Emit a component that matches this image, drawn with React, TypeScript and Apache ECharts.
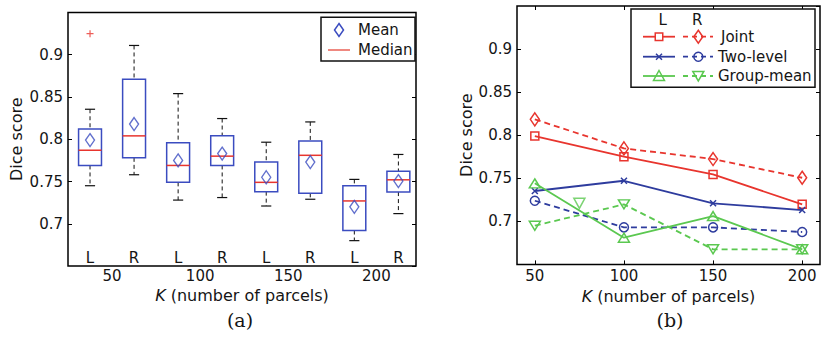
import React, { useEffect, useRef } from "react";
import * as echarts from "echarts";

// ---------- Panel (a): box plots ----------
const boxPositions = [1, 2, 3, 4, 5, 6, 7, 8];
const boxSides = ["L", "R", "L", "R", "L", "R", "L", "R"];
const kTickPositions = [1.5, 3.5, 5.5, 7.5];
const kTickLabels = ["50", "100", "150", "200"];
const boxMin = [0.745, 0.758, 0.728, 0.731, 0.721, 0.729, 0.68, 0.712];
const boxQ1 = [0.769, 0.778, 0.749, 0.769, 0.738, 0.736, 0.692, 0.7375];
const boxMedian = [0.787, 0.804, 0.769, 0.78, 0.749, 0.781, 0.727, 0.752];
const boxQ3 = [0.812, 0.871, 0.796, 0.804, 0.773, 0.798, 0.745, 0.762];
const boxMax = [0.8355, 0.911, 0.854, 0.8245, 0.7965, 0.8205, 0.7525, 0.782];
const boxMean = [0.799, 0.818, 0.775, 0.783, 0.755, 0.773, 0.72, 0.7505];
const outliers: [number, number][] = [[1, 0.925]];

// ---------- Panel (b): lines ----------
const kValues = [50, 100, 150, 200];
const jointL = [0.799, 0.775, 0.7545, 0.7197];
const jointR = [0.8184, 0.7847, 0.7723, 0.7506];
const twoLevelL = [0.7352, 0.7471, 0.7209, 0.7131];
const twoLevelR = [0.7239, 0.693, 0.693, 0.6876];
const groupMeanL = [0.7441, 0.681, 0.7061, 0.6675];
const groupMeanR = [0.6949, 0.7197, 0.6675, 0.6675];
const groupMeanRExtra: [number, number][] = [[75, 0.7209]];

const FONT = "DejaVu Sans";
const TXT = "#151515";
const BOX_BLUE = "#3b4cc0";
const RED = "#e8352e";
const BLUE = "#2e3c9e";
const GREEN = "#5bc850";

const X_SYM = "path://M0,0L10,10M10,0L0,10";
const PLUS_SYM = "path://M5,0L5,10M0,5L10,5";
const TRI_DOWN = "path://M0,0L10,0L5,9Z";
const TRI_UP = "path://M5,0L10,9L0,9Z";

const fmtY = (v: number) => String(+v.toFixed(2));

function lineSeries(
  name: string,
  data: number[],
  color: string,
  dashed: boolean,
  symbol: string,
  symbolSize: number | number[]
) {
  return {
    name,
    type: "line",
    xAxisIndex: 2,
    yAxisIndex: 2,
    data: kValues.map((k, i) => [k, data[i]]),
    symbol,
    symbolSize,
    symbolKeepAspect: true,
    showSymbol: true,
    lineStyle: { color, width: 1.8, type: dashed ? [6, 4] : "solid" },
    itemStyle: { color: "rgba(0,0,0,0)", borderColor: color, borderWidth: 1.5 },
    emphasis: { disabled: true },
    z: 3,
  };
}

export default function App() {
  const ref = useRef<HTMLDivElement>(null);
  useEffect(() => {
    if (!ref.current) return;
    const chart = echarts.init(ref.current, undefined, { renderer: "svg" });

    const boxData = boxPositions.map((p, i) => [p, boxMin[i], boxQ1[i], boxMedian[i], boxQ3[i], boxMax[i]]);

    const yCommon = (gridIndex: number, position: string, labels: boolean, name?: string, nameGap?: number) => ({
      type: "value",
      gridIndex,
      position,
      min: 0.65,
      max: 0.95,
      interval: 0.05,
      axisLine: { show: false },
      axisTick: { show: true, inside: true, length: 4, lineStyle: { color: "#000", width: 1 } },
      splitLine: { show: false },
      axisLabel: {
        show: labels,
        showMinLabel: false,
        showMaxLabel: false,
        formatter: fmtY,
        fontFamily: FONT,
        fontSize: 15,
        color: TXT,
        margin: 5,
      },
      name: name || "",
      nameLocation: "middle",
      nameGap: nameGap || 0,
      nameTextStyle: { fontFamily: FONT, fontSize: 16, color: TXT },
    });

    const kName = "{i|K} (number of parcels)";
    const kNameStyle = {
      fontFamily: FONT,
      fontSize: 16,
      color: TXT,
      rich: { i: { fontFamily: FONT, fontSize: 16, fontStyle: "italic", color: TXT } },
    };

    const diamond = (cx: number, cy: number, w: number, h: number, color: string) => ({
      type: "polygon",
      shape: { points: [[cx, cy - h / 2], [cx + w / 2, cy], [cx, cy + h / 2], [cx - w / 2, cy]] },
      style: { fill: "none", stroke: color, lineWidth: 1.5 },
      z: 101,
    });
    const hline = (x1: number, x2: number, y: number, color: string, dash?: number[]) => ({
      type: "line",
      shape: { x1, y1: y, x2, y2: y },
      style: { stroke: color, lineWidth: 1.8, lineDash: dash },
      z: 101,
    });
    const txt = (x: number, y: number, text: string, align = "left", size = 15) => ({
      type: "text",
      x,
      y,
      style: { text, fontFamily: FONT, fontSize: size, fill: TXT, align, verticalAlign: "middle" },
      z: 102,
    });

    const LX = 659, RX = 698.3;
    const rows = [36.7, 56.7, 76];

    const option: any = {
      animation: false,
      backgroundColor: "#fff",
      grid: [
        { left: 68, top: 12.5, width: 348, height: 253.5, show: true, borderColor: "#000", borderWidth: 1.5, backgroundColor: "transparent" },
        { left: 517, top: 6, width: 303, height: 258.4, show: true, borderColor: "#000", borderWidth: 1.5, backgroundColor: "transparent" },
      ],
      xAxis: [
        {
          type: "value",
          gridIndex: 0,
          position: "bottom",
          min: 0.5,
          max: 8.4,
          axisLine: { show: false },
          axisTick: { show: false },
          splitLine: { show: false },
          axisLabel: {
            customValues: kTickPositions,
            formatter: (v: number) => kTickLabels[kTickPositions.indexOf(v)] ?? "",
            fontFamily: FONT,
            fontSize: 15,
            color: TXT,
            margin: 2,
          },
          name: kName,
          nameLocation: "middle",
          nameGap: 20,
          nameTextStyle: kNameStyle,
        },
        {
          type: "value",
          gridIndex: 0,
          position: "bottom",
          min: 0.5,
          max: 8.4,
          axisLine: { show: false },
          axisTick: { show: false },
          splitLine: { show: false },
          axisLabel: {
            inside: true,
            customValues: boxPositions,
            formatter: (v: number) => boxSides[boxPositions.indexOf(v)] ?? "",
            fontFamily: FONT,
            fontSize: 15,
            color: TXT,
            margin: 1,
          },
        },
        {
          type: "value",
          gridIndex: 1,
          position: "bottom",
          min: 40,
          max: 210,
          axisLine: { show: false },
          axisTick: { show: true, inside: true, length: 4, customValues: kValues, lineStyle: { color: "#000" } },
          splitLine: { show: false },
          axisLabel: { customValues: kValues, fontFamily: FONT, fontSize: 15, color: TXT, margin: 4 },
          name: kName,
          nameLocation: "middle",
          nameGap: 21,
          nameTextStyle: kNameStyle,
        },
        {
          type: "value",
          gridIndex: 1,
          position: "top",
          min: 40,
          max: 210,
          axisLine: { show: false },
          axisTick: { show: true, inside: true, length: 4, customValues: kValues, lineStyle: { color: "#000" } },
          splitLine: { show: false },
          axisLabel: { show: false },
        },
      ],
      yAxis: [
        yCommon(0, "left", true, "Dice score", 44),
        yCommon(0, "right", false),
        yCommon(1, "left", true, "Dice score", 41),
        yCommon(1, "right", false),
      ],
      series: [
        {
          type: "custom",
          xAxisIndex: 0,
          yAxisIndex: 0,
          data: boxData,
          encode: { x: 0, y: [1, 2, 3, 4, 5] },
          renderItem: (params: any, api: any) => {
            const x = api.value(0);
            const lo = api.coord([x, api.value(1)]);
            const q1 = api.coord([x, api.value(2)]);
            const md = api.coord([x, api.value(3)]);
            const q3 = api.coord([x, api.value(4)]);
            const hi = api.coord([x, api.value(5)]);
            const unit = api.size([1, 0])[0];
            const bw = (unit * 0.52) / 2;
            const cw = (unit * 0.23) / 2;
            const cx = lo[0];
            const wh = { stroke: "#111", lineWidth: 1, lineDash: [4, 3] };
            const cap = { stroke: "#111", lineWidth: 1.2 };
            return {
              type: "group",
              children: [
                { type: "line", shape: { x1: cx, y1: hi[1], x2: cx, y2: q3[1] }, style: wh },
                { type: "line", shape: { x1: cx, y1: q1[1], x2: cx, y2: lo[1] }, style: wh },
                { type: "line", shape: { x1: cx - cw, y1: hi[1], x2: cx + cw, y2: hi[1] }, style: cap },
                { type: "line", shape: { x1: cx - cw, y1: lo[1], x2: cx + cw, y2: lo[1] }, style: cap },
                {
                  type: "rect",
                  shape: { x: cx - bw, y: q3[1], width: 2 * bw, height: q1[1] - q3[1] },
                  style: { fill: "none", stroke: BOX_BLUE, lineWidth: 1.5 },
                },
                { type: "line", shape: { x1: cx - bw, y1: md[1], x2: cx + bw, y2: md[1] }, style: { stroke: RED, lineWidth: 1.5 } },
              ],
            };
          },
          z: 2,
        },
        {
          type: "scatter",
          xAxisIndex: 0,
          yAxisIndex: 0,
          data: boxPositions.map((p, i) => [p, boxMean[i]]),
          symbol: "diamond",
          symbolSize: [9, 13],
          itemStyle: { color: "rgba(0,0,0,0)", borderColor: BOX_BLUE, borderWidth: 1.4 },
          z: 4,
        },
        {
          type: "scatter",
          xAxisIndex: 0,
          yAxisIndex: 0,
          data: outliers,
          symbol: PLUS_SYM,
          symbolSize: 7,
          itemStyle: { color: "rgba(0,0,0,0)", borderColor: RED, borderWidth: 1.2 },
          z: 4,
        },
        lineSeries("Joint L", jointL, RED, false, "rect", 8),
        lineSeries("Joint R", jointR, RED, true, "diamond", [9, 13]),
        lineSeries("Two-level L", twoLevelL, BLUE, false, X_SYM, 6),
        lineSeries("Two-level R", twoLevelR, BLUE, true, "circle", 9),
        lineSeries("Group-mean L", groupMeanL, GREEN, false, TRI_UP, [11, 10]),
        lineSeries("Group-mean R", groupMeanR, GREEN, true, TRI_DOWN, [11, 10]),
        {
          type: "scatter",
          xAxisIndex: 2,
          yAxisIndex: 2,
          data: groupMeanRExtra,
          symbol: TRI_DOWN,
          symbolSize: [11, 10],
          itemStyle: { color: "rgba(0,0,0,0)", borderColor: GREEN, borderWidth: 1.5 },
          z: 4,
        },
      ],
      graphic: [
        // legend (a)
        { type: "rect", shape: { x: 321, y: 17.3, width: 94, height: 43.7 }, style: { fill: "#fff", stroke: "#111", lineWidth: 1.5 }, z: 100 },
        diamond(339, 30, 9, 13, BOX_BLUE),
        txt(358, 30, "Mean"),
        { type: "line", shape: { x1: 328, y1: 50, x2: 350, y2: 50 }, style: { stroke: "#ee7b72", lineWidth: 1.8 }, z: 101 },
        txt(358, 50, "Median"),
        // legend (b)
        { type: "rect", shape: { x: 631, y: 9, width: 184, height: 78.3 }, style: { fill: "#fff", stroke: "#111", lineWidth: 1.5 }, z: 100 },
        txt(662.7, 20, "L", "center"),
        txt(697.3, 20, "R", "center"),
        hline(643, 675, rows[0], RED),
        hline(683, 713, rows[0], RED, [5, 4]),
        { type: "rect", shape: { x: LX - 3.75, y: rows[0] - 3.75, width: 7.5, height: 7.5 }, style: { fill: "#fff", stroke: RED, lineWidth: 1.5 }, z: 102 },
        diamond(RX, rows[0], 9, 13, RED),
        txt(721, rows[0], "Joint"),
        hline(643, 675, rows[1], BLUE),
        hline(683, 713, rows[1], BLUE, [5, 4]),
        { type: "line", shape: { x1: LX - 3, y1: rows[1] - 3, x2: LX + 3, y2: rows[1] + 3 }, style: { stroke: BLUE, lineWidth: 1.5 }, z: 102 },
        { type: "line", shape: { x1: LX - 3, y1: rows[1] + 3, x2: LX + 3, y2: rows[1] - 3 }, style: { stroke: BLUE, lineWidth: 1.5 }, z: 102 },
        { type: "circle", shape: { cx: RX, cy: rows[1], r: 4.5 }, style: { fill: "none", stroke: BLUE, lineWidth: 1.5 }, z: 102 },
        txt(718, rows[1], "Two-level"),
        hline(643, 675, rows[2], GREEN),
        hline(683, 713, rows[2], GREEN, [5, 4]),
        {
          type: "polygon",
          shape: { points: [[LX, rows[2] - 5.5], [LX + 5.5, rows[2] + 4.5], [LX - 5.5, rows[2] + 4.5]] },
          style: { fill: "none", stroke: GREEN, lineWidth: 1.5 },
          z: 102,
        },
        {
          type: "polygon",
          shape: { points: [[RX - 5.5, rows[2] - 4.5], [RX + 5.5, rows[2] - 4.5], [RX, rows[2] + 5]] },
          style: { fill: "none", stroke: GREEN, lineWidth: 1.5 },
          z: 102,
        },
        txt(718, rows[2], "Group-mean"),
        // captions
        { type: "text", x: 240, y: 320, style: { text: "(a)", fontFamily: "DejaVu Serif", fontSize: 19, fill: TXT, align: "center", verticalAlign: "middle" }, z: 102 },
        { type: "text", x: 670, y: 320, style: { text: "(b)", fontFamily: "DejaVu Serif", fontSize: 19, fill: TXT, align: "center", verticalAlign: "middle" }, z: 102 },
      ],
    };

    chart.setOption(option);
    return () => chart.dispose();
  }, []);

  return <div ref={ref} style={{ position: "absolute", left: 0, top: 0, width: 821, height: 339 }} />;
}
